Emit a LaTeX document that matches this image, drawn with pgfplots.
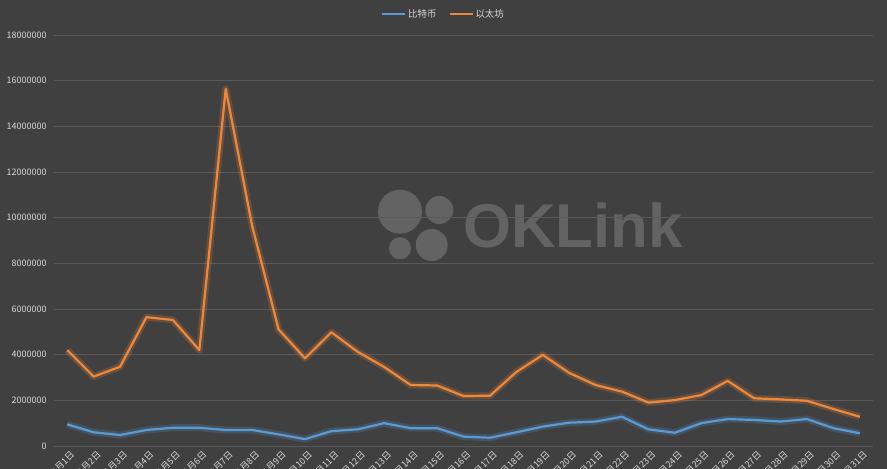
\documentclass[border=0pt]{standalone}
\usepackage{fontspec}
\setmainfont{Noto Sans CJK SC}
\newfontfamily\wmfont{Liberation Sans}
\usepackage{pgfplots}
\usepackage{pgfplotstable}
\pgfplotsset{compat=1.18}
\usetikzlibrary{backgrounds}
\definecolor{bg}{HTML}{404040}
\definecolor{gridc}{HTML}{5A5A5A}
\definecolor{tc}{HTML}{D9D9D9}
\definecolor{wm}{HTML}{636363}
\definecolor{btc}{HTML}{5B9BD5}
\definecolor{eth}{HTML}{F0883A}

\pgfplotstableread{
x btc eth
1 950000 4200000
2 600000 3040000
3 480000 3470000
4 700000 5640000
5 800000 5520000
6 800000 4200000
7 700000 15640000
8 700000 9640000
9 510000 5110000
10 300000 3840000
11 650000 4980000
12 730000 4120000
13 1000000 3460000
14 780000 2670000
15 780000 2650000
16 410000 2190000
17 360000 2200000
18 600000 3240000
19 850000 3990000
20 1020000 3200000
21 1070000 2670000
22 1280000 2380000
23 730000 1900000
24 580000 2010000
25 1000000 2230000
26 1180000 2850000
27 1140000 2090000
28 1070000 2040000
29 1180000 1980000
30 780000 1620000
31 560000 1280000
}\data

\begin{document}
\begin{tikzpicture}
\begin{axis}[
  scale only axis, width=819bp, height=411bp,
  xmin=0.5, xmax=31.5, ymin=0, ymax=18000000,
  scaled y ticks=false,
  axis line style={draw=none},
  tick style={draw=none},
  ymajorgrids, grid style={gridc, line width=0.8bp},
  ytick={0,2000000,4000000,6000000,8000000,10000000,12000000,14000000,16000000,18000000},
  yticklabels={0,2000000,4000000,6000000,8000000,10000000,12000000,14000000,16000000,18000000},
  xtick={1,2,3,4,5,6,7,8,9,10,11,12,13,14,15,16,17,18,19,20,21,22,23,24,25,26,27,28,29,30,31},
  xticklabels={1月1日,1月2日,1月3日,1月4日,1月5日,1月6日,1月7日,1月8日,1月9日,1月10日,1月11日,1月12日,1月13日,1月14日,1月15日,1月16日,1月17日,1月18日,1月19日,1月20日,1月21日,1月22日,1月23日,1月24日,1月25日,1月26日,1月27日,1月28日,1月29日,1月30日,1月31日},
  /pgf/number format/assume math mode=true,
  yticklabel style={font=\fontsize{9}{10}\selectfont, text=tc, xshift=-4bp},
  xticklabel style={font=\fontsize{9}{10}\selectfont, text=tc, rotate=45, anchor=north east, inner sep=1bp, yshift=-4bp},
  legend style={at={(axis description cs:0.4756,1.051)}, anchor=center, draw=none, fill=none, text=tc,
    font=\fontsize{9.5}{11}\selectfont, legend columns=2,
    /tikz/every even column/.append style={column sep=10bp}},
  legend image code/.code={\draw[#1, line width=2bp] (0bp,0bp) -- (23bp,0bp);},
  clip=false,
]
\coordinate (O) at (rel axis cs:0,0);
\addplot[btc, opacity=0.22, line width=7bp, line join=round, forget plot] table[x=x,y=btc] {\data};
\addplot[eth, opacity=0.22, line width=7bp, line join=round, forget plot] table[x=x,y=eth] {\data};
\addplot[btc, line width=2.2bp, line join=round] table[x=x,y=btc] {\data};
\addplot[eth, line width=2.2bp, line join=round] table[x=x,y=eth] {\data};
\legend{比特币,以太坊}
\end{axis}
\begin{scope}[on background layer, shift={(O)}, x=1bp, y=1bp]
\begin{scope}[xshift=-54bp, yshift=-23bp]
\fill[bg] (0,0) rectangle (887,469);
\fill[wm] (400,257.3) circle (22bp);
\fill[wm] (439.3,259) circle (14bp);
\fill[wm] (400,220.7) circle (11bp);
\fill[wm] (431.7,224) circle (16bp);
\node[anchor=base west, inner sep=0, text=wm, font=\wmfont\bfseries\fontsize{62}{62}\selectfont] at (463,221) {OKLink};
\end{scope}
\end{scope}
\pgfresetboundingbox
\begin{scope}[shift={(O)}, x=1bp, y=1bp]
\useasboundingbox (-54,-23) rectangle (833,446);
\end{scope}
\end{tikzpicture}
\end{document}
